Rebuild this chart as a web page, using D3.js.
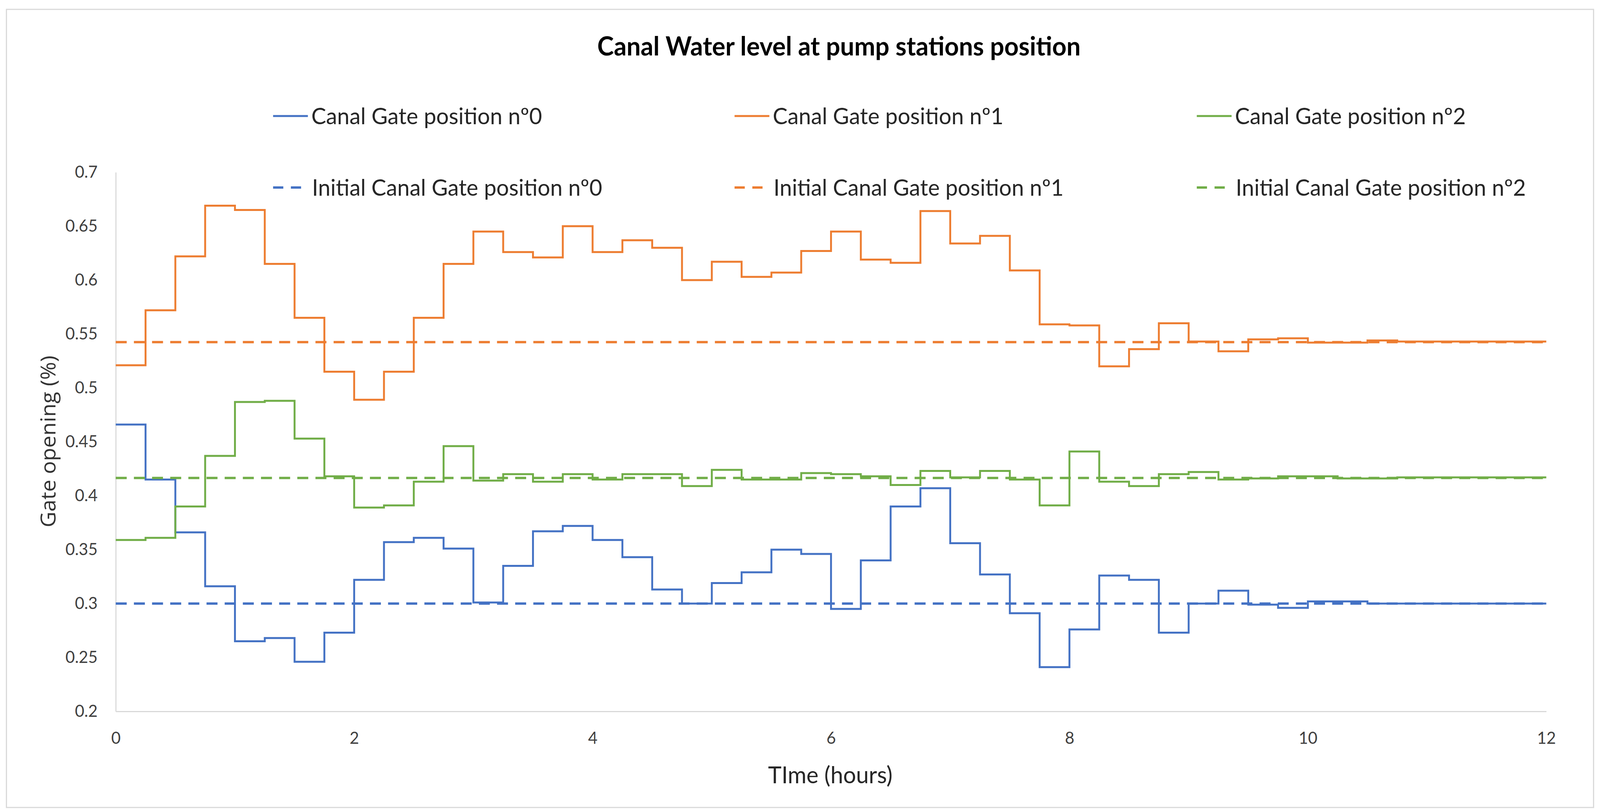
<!DOCTYPE html>
<html lang="en">
  <head>
    <meta charset="UTF-8"/>
    <title>Canal Water level at pump stations position</title>
    <script src="https://d3js.org/d3.v7.min.js"></script>
    <style>
        html, body {
          margin: 0;
          padding: 0;
          overflow: hidden;
          background: #fff;
        }
        svg {
          display: block;
          width: 100vw;
          height: 100vh;
        }
        text {
          font-family: Lato, "Open Sans", sans-serif;
        }
        .title {
          font-size: 62px;
          font-weight: bold;
          fill: #000;
        }
        .legend text {
          font-size: 58px;
          fill: #262626;
        }
        .axis text {
          font-size: 44px;
          fill: #404040;
        }
        .axis path,
        .axis line {
          stroke: #d9d9d9;
          stroke-width: 3;
        }
        .x-title {
          font-size: 60px;
          fill: #262626;
        }
        .y-title {
          font-family: "Open Sans", sans-serif;
          font-size: 52px;
          fill: #333;
        }
        .frame {
          fill: none;
          stroke: #d9d9d9;
          stroke-width: 3;
        }
    </style>
  </head>
  <body>
    <script>
        // gate opening every quarter hour, t = 0, 0.25, ... 11.75
        const gate0 = [
          0.466, 0.415, 0.366, 0.316, 0.265, 0.268, 0.246, 0.273,
          0.322, 0.357, 0.361, 0.351, 0.301, 0.335, 0.367, 0.372,
          0.359, 0.343, 0.313, 0.300, 0.319, 0.329, 0.350, 0.346,
          0.295, 0.340, 0.390, 0.407, 0.356, 0.327, 0.291, 0.241,
          0.276, 0.326, 0.322, 0.273, 0.300, 0.312, 0.299, 0.296,
          0.302, 0.302, 0.300, 0.300, 0.300, 0.300, 0.300, 0.300
        ]
        const gate1 = [
          0.521, 0.572, 0.622, 0.669, 0.665, 0.615, 0.565, 0.515,
          0.489, 0.515, 0.565, 0.615, 0.645, 0.626, 0.621, 0.650,
          0.626, 0.637, 0.630, 0.600, 0.617, 0.603, 0.607, 0.627,
          0.645, 0.619, 0.616, 0.664, 0.634, 0.641, 0.609, 0.559,
          0.558, 0.520, 0.536, 0.560, 0.543, 0.534, 0.545, 0.546,
          0.542, 0.542, 0.544, 0.543, 0.543, 0.543, 0.543, 0.543
        ]
        const gate2 = [
          0.359, 0.361, 0.390, 0.437, 0.487, 0.488, 0.453, 0.418,
          0.389, 0.391, 0.413, 0.446, 0.414, 0.420, 0.413, 0.420,
          0.415, 0.420, 0.420, 0.409, 0.424, 0.415, 0.415, 0.421,
          0.420, 0.418, 0.410, 0.423, 0.417, 0.423, 0.415, 0.391,
          0.441, 0.413, 0.409, 0.420, 0.422, 0.415, 0.416, 0.418,
          0.418, 0.416, 0.416, 0.417, 0.417, 0.417, 0.417, 0.417
        ]
        const initial = [0.300, 0.5425, 0.4165]

        const seriesNames  = ["Canal Gate position nº0", "Canal Gate position nº1", "Canal Gate position nº2"]
        const initialNames = ["Initial Canal Gate position nº0", "Initial Canal Gate position nº1", "Initial Canal Gate position nº2"]
        const colors = ["#4472C4", "#ED7D31", "#70AD47"]

        const xTicks = [0, 2, 4, 6, 8, 10, 12]
        const yTicks = [0.2, 0.25, 0.3, 0.35, 0.4, 0.45, 0.5, 0.55, 0.6, 0.65, 0.7]
        const step = 0.25

        const W = 4230, H = 2076
        const plot = {left: 306, right: 4088, top: 441, bottom: 1821}

        const x = d3.scaleLinear().domain([0, 12]).range([plot.left, plot.right])
        const y = d3.scaleLinear().domain([0.2, 0.7]).range([plot.bottom, plot.top])

        // scale a text's font so that it takes the given width (Calibri in the original)
        function fitWidth(sel, target) {
          const w = sel.node().getComputedTextLength()
          const fs = parseFloat(sel.style("font-size"))
          const size = fs * target / w
          sel.style("font-size", size + "px")
          return size
        }

        const svg = d3.select("body").append("svg")
            .attr("viewBox", `0 0 ${W} ${H}`)
            .attr("preserveAspectRatio", "none")

        svg.append("rect")
            .attr("class", "frame")
            .attr("x", 17).attr("y", 24)
            .attr("width", 4196).attr("height", 2043)

        const title = svg.append("text")
            .attr("class", "title")
            .attr("x", 2218)
            .attr("y", 142)
            .attr("text-anchor", "middle")
            .text("Canal Water level at pump stations position")
        fitWidth(title, 1278)

        // axes
        const xAxis = d3.axisBottom(x).tickValues(xTicks).tickSize(0).tickPadding(52)
        const yAxis = d3.axisLeft(y).tickValues(yTicks).tickSize(0).tickPadding(48)
            .tickFormat(d => String(+d.toFixed(2)))

        const gx = svg.append("g")
            .attr("class", "axis")
            .attr("transform", `translate(0, ${plot.bottom})`)
            .call(xAxis)

        const gy = svg.append("g")
            .attr("class", "axis")
            .attr("transform", `translate(${plot.left}, 0)`)
            .call(yAxis)

        // tick labels: "0.45" is about 85px wide in the reference
        const ref = gy.selectAll(".tick text").filter(d => Math.abs(d - 0.45) < 1e-9)
        const tickSize = fitWidth(ref, 85)
        svg.selectAll(".axis text").style("font-size", tickSize + "px")

        const xTitle = svg.append("text")
            .attr("class", "x-title")
            .attr("x", 2195)
            .attr("y", 2005)
            .attr("text-anchor", "middle")
            .text("TIme (hours)")
        fitWidth(xTitle, 329)

        const yTitle = svg.append("text")
            .attr("class", "y-title")
            .attr("transform", "translate(147, 1130) rotate(-90)")
            .attr("text-anchor", "middle")
            .text("Gate opening (%)")
        fitWidth(yTitle, 440)

        // step lines: each value holds for a quarter hour
        const toPoints = vals => {
          const pts = vals.map((v, i) => [i * step, v])
          pts.push([vals.length * step, vals[vals.length - 1]])
          return pts
        }
        const line = d3.line()
            .x(d => x(d[0]))
            .y(d => y(d[1]))
            .curve(d3.curveStepAfter)

        const plotG = svg.append("g")
        ;[gate0, gate1, gate2].forEach((vals, i) => {
          plotG.append("path")
              .attr("d", line(toPoints(vals)))
              .attr("fill", "none")
              .attr("stroke", colors[i])
              .attr("stroke-width", 5)
        })

        initial.forEach((v, i) => {
          plotG.append("path")
              .attr("d", line([[0, v], [12, v]]))
              .attr("fill", "none")
              .attr("stroke", colors[i])
              .attr("stroke-width", 6)
              .attr("stroke-dasharray", "29,19")
        })

        // legend
        const legendX = [722, 1942, 3164]
        const legendY = [297, 480]
        const legend = svg.append("g").attr("class", "legend")

        seriesNames.forEach((name, i) => {
          legend.append("line")
              .attr("x1", legendX[i]).attr("x2", legendX[i] + 92)
              .attr("y1", legendY[0]).attr("y2", legendY[0])
              .attr("stroke", colors[i]).attr("stroke-width", 5)
          legend.append("text")
              .attr("x", legendX[i] + 101)
              .attr("y", legendY[0])
              .attr("dy", "0.35em")
              .text(name)
        })

        initialNames.forEach((name, i) => {
          legend.append("line")
              .attr("x1", legendX[i]).attr("x2", legendX[i] + 74)
              .attr("y1", legendY[1]).attr("y2", legendY[1])
              .attr("stroke", colors[i]).attr("stroke-width", 6)
              .attr("stroke-dasharray", "27,20")
          legend.append("text")
              .attr("x", legendX[i] + 103)
              .attr("y", legendY[1])
              .attr("dy", "0.35em")
              .text(name)
        })

        // legend font from the width of the first label (about 610px)
        const legendSize = fitWidth(legend.select("text"), 610)
        legend.selectAll("text").style("font-size", legendSize + "px")
    </script>
  </body>
</html>
